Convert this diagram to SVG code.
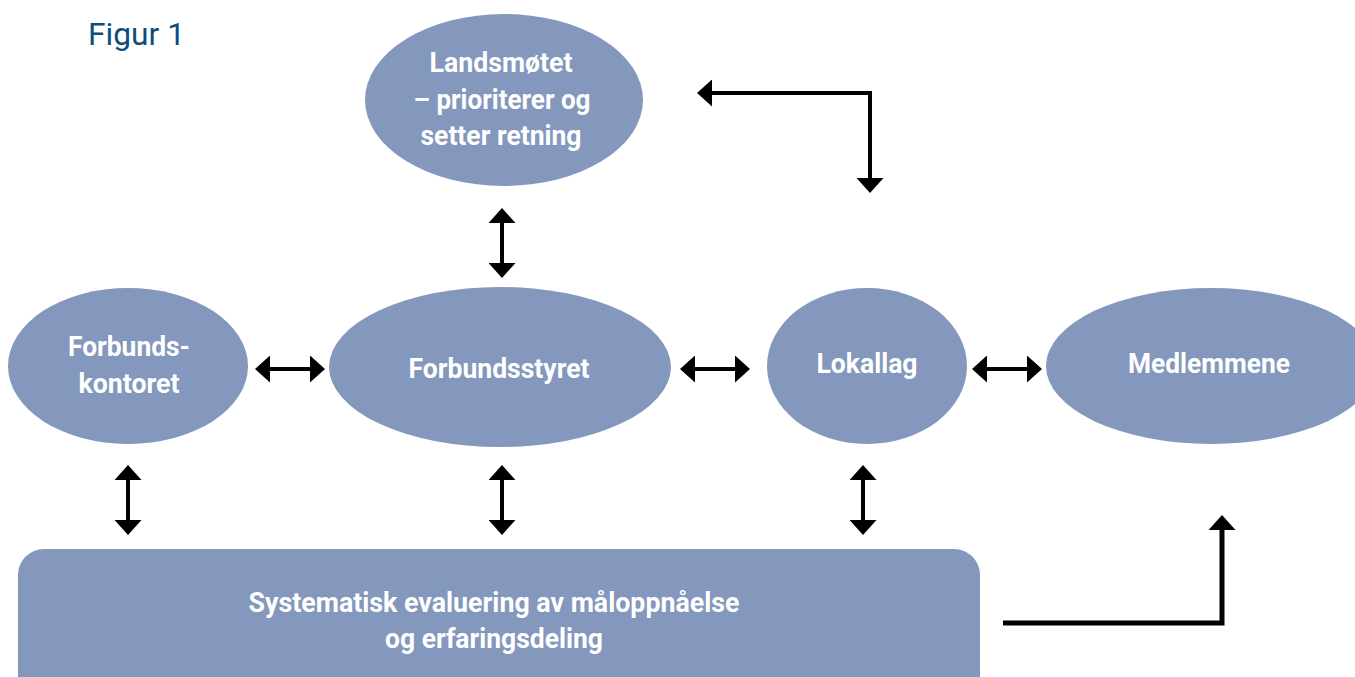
<svg xmlns="http://www.w3.org/2000/svg" width="1355" height="677" viewBox="0 0 1355 677">
<style>
.node{fill:#8497bc;}
.lbl{font-family:Roboto,"Liberation Sans",sans-serif;font-weight:700;font-size:28px;fill:#ffffff;text-anchor:middle;}
.ln{stroke:#000;stroke-width:4;fill:none;}
.el{stroke:#000;stroke-width:5;fill:none;}
.title{font-family:Roboto,"Liberation Sans",sans-serif;font-weight:400;font-size:32px;fill:#0d4d7e;}
</style>
<defs>
<marker id="ah" viewBox="0 0 15 27" refX="12" refY="13.5" markerWidth="15" markerHeight="27" markerUnits="userSpaceOnUse" orient="auto-start-reverse">
<path d="M0,0 L15,13.5 L0,27 Z" fill="#000"/>
</marker>
</defs>
<rect width="1355" height="677" fill="#ffffff"/>
<text class="title" x="88" y="45" textLength="97" lengthAdjust="spacingAndGlyphs">Figur 1</text>

<g id="landsmotet">
<ellipse class="node" cx="504" cy="100" rx="139" ry="86"/>
<text class="lbl" x="501" y="72" textLength="143" lengthAdjust="spacingAndGlyphs">Landsmøtet</text>
<text class="lbl" x="502" y="109" textLength="177" lengthAdjust="spacingAndGlyphs">– prioriterer og</text>
<text class="lbl" x="501" y="145" textLength="161" lengthAdjust="spacingAndGlyphs">setter retning</text>
</g>
<g id="forbundskontoret">
<ellipse class="node" cx="128" cy="366" rx="120" ry="78"/>
<text class="lbl" x="129" y="356" textLength="122" lengthAdjust="spacingAndGlyphs">Forbunds-</text>
<text class="lbl" x="129" y="393" textLength="101" lengthAdjust="spacingAndGlyphs">kontoret</text>
</g>
<g id="forbundsstyret">
<ellipse class="node" cx="500" cy="367" rx="171" ry="80"/>
<text class="lbl" x="499" y="378" textLength="181" lengthAdjust="spacingAndGlyphs">Forbundsstyret</text>
</g>
<g id="lokallag">
<ellipse class="node" cx="867" cy="366" rx="100" ry="78"/>
<text class="lbl" x="867" y="373" textLength="101" lengthAdjust="spacingAndGlyphs">Lokallag</text>
</g>
<g id="medlemmene">
<ellipse class="node" cx="1211" cy="366" rx="165" ry="78"/>
<text class="lbl" x="1209" y="373" textLength="162" lengthAdjust="spacingAndGlyphs">Medlemmene</text>
</g>
<g id="evaluering">
<rect class="node" x="18" y="549" width="962" height="160" rx="26" ry="26"/>
<text class="lbl" x="494" y="612" textLength="491" lengthAdjust="spacingAndGlyphs">Systematisk evaluering av måloppnåelse</text>
<text class="lbl" x="494" y="648" textLength="218" lengthAdjust="spacingAndGlyphs">og erfaringsdeling</text>
</g>

<g id="connectors">
<line class="ln" x1="502" y1="211" x2="502" y2="275" marker-start="url(#ah)" marker-end="url(#ah)"/>
<line class="ln" x1="258" y1="369" x2="322" y2="369" marker-start="url(#ah)" marker-end="url(#ah)"/>
<line class="ln" x1="683" y1="369" x2="747" y2="369" marker-start="url(#ah)" marker-end="url(#ah)"/>
<line class="ln" x1="975" y1="369" x2="1039" y2="369" marker-start="url(#ah)" marker-end="url(#ah)"/>
<line class="ln" x1="128" y1="468" x2="128" y2="532" marker-start="url(#ah)" marker-end="url(#ah)"/>
<line class="ln" x1="502" y1="468" x2="502" y2="532" marker-start="url(#ah)" marker-end="url(#ah)"/>
<line class="ln" x1="863" y1="468" x2="863" y2="532" marker-start="url(#ah)" marker-end="url(#ah)"/>
<polyline class="ln" points="700,93 870,93 870,190" marker-start="url(#ah)" marker-end="url(#ah)"/>
<polyline class="el" points="1003,623 1222,623 1222,518" marker-end="url(#ah)"/>
</g>
</svg>
